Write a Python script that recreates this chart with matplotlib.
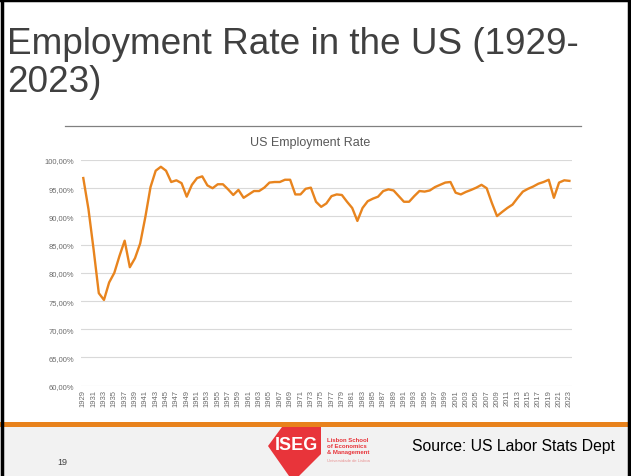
import matplotlib
matplotlib.use("Agg")
import matplotlib.pyplot as plt
from matplotlib.patches import Rectangle, Polygon
from matplotlib.lines import Line2D

plt.rcParams['font.family'] = ['Liberation Sans', 'DejaVu Sans']

# ---- data ----
years = list(range(1929, 2024))
employment_rate = [
    96.8, 91.3, 84.1, 76.4, 75.2, 78.3, 80.0, 83.0, 85.7, 81.0,   # 1929-1938
    82.6, 85.2, 89.9, 95.2, 98.1, 98.8, 98.1, 96.1, 96.4, 95.9,   # 1939-1948
    93.5, 95.6, 96.8, 97.1, 95.5, 95.0, 95.7, 95.7, 94.8, 93.8,   # 1949-1958
    94.7, 93.3, 93.9, 94.5, 94.5, 95.1, 96.0, 96.1, 96.1, 96.5,   # 1959-1968
    96.5, 93.9, 93.9, 94.9, 95.1, 92.6, 91.7, 92.3, 93.6, 93.9,   # 1969-1978
    93.8, 92.6, 91.5, 89.2, 91.5, 92.7, 93.15, 93.5, 94.5, 94.8,  # 1979-1988
    94.6, 93.6, 92.6, 92.6, 93.6, 94.5, 94.4, 94.6, 95.2, 95.6,   # 1989-1998
    96.0, 96.1, 94.2, 93.9, 94.35, 94.7, 95.1, 95.6, 95.0, 92.4,  # 1999-2008
    90.06, 90.8, 91.5, 92.1, 93.3, 94.4, 94.9, 95.3, 95.8, 96.1,  # 2009-2018
    96.5, 93.3, 96.0, 96.4, 96.3,                                 # 2019-2023
]
y_ticks = [60, 65, 70, 75, 80, 85, 90, 95, 100]
x_tick_years = list(range(1929, 2024, 2))

slide_title = "Employment Rate in the US (1929-\n2023)"
chart_title = "US Employment Rate"
source_text = "Source: US Labor Stats Dept"
page_no = "19"

W, H = 631, 477
fig = plt.figure(figsize=(W / 100, H / 100), dpi=100)
fig.patch.set_facecolor('white')

def fx(x):
    return x / W

def fy(y):
    return 1 - y / H

# ---- chart axes ----
left, right, top, bottom = 80.7, 572.0, 161.0, 386.7
ax = fig.add_axes([fx(left), fy(bottom), fx(right) - fx(left), fy(top) - fy(bottom)])
ax.plot(years, employment_rate, color='#E8841E', lw=1.7, solid_joinstyle='round', zorder=3)
ax.set_xlim(1928.5, 2023.5)
ax.set_ylim(60, 100)
ax.set_yticks(y_ticks)
ax.set_yticklabels([f"{v:.2f}%".replace('.', ',') for v in y_ticks])
ax.set_xticks(x_tick_years)
ax.set_xticklabels([str(y) for y in x_tick_years], rotation=90)
ax.tick_params(axis='both', length=0, colors='#6b6b6b', labelsize=5.5)
ax.tick_params(axis='y', pad=5)
ax.tick_params(axis='x', pad=2.5)
for s in ax.spines.values():
    s.set_visible(False)
ax.grid(axis='y', color='#D9D9D9', lw=0.8)
ax.set_axisbelow(True)
ax.set_facecolor('none')

# chart title
fig.text(fx(310), fy(143), chart_title, ha='center', va='center', fontsize=9, color='#595959')

# separator line under slide title
fig.add_artist(Line2D([fx(65), fx(581)], [fy(127), fy(127)], color='#808080', lw=0.9))

# slide title
fig.text(fx(7), fy(27), slide_title, ha='left', va='top', fontsize=26.6, color='#404040',
         linespacing=1.1)

# ---- footer ----
fig.add_artist(Rectangle((0, 0), 1, fy(428), transform=fig.transFigure,
                         facecolor='#F2F2F2', edgecolor='none', zorder=0))
fig.add_artist(Rectangle((0, fy(428)), 1, fy(423) - fy(428), transform=fig.transFigure,
                         facecolor='#E8821C', edgecolor='none', zorder=1))
fig.text(fx(57), fy(463), page_no, ha='left', va='center', fontsize=6.5, color='#404040')
fig.text(fx(412), fy(447), source_text, ha='left', va='center', fontsize=11.3, color='#000000')

# logo
logo_pts = [(268, 447), (282, 428), (321, 428), (321, 455), (299, 477), (289, 477)]
fig.add_artist(Polygon([(fx(x), fy(y)) for x, y in logo_pts], closed=True,
                       transform=fig.transFigure, facecolor='#E8343A', edgecolor='none', zorder=2))
fig.text(fx(296), fy(446), "ISEG", ha='center', va='center', fontsize=13, color='white',
         fontweight='bold', zorder=3)
for i, t in enumerate(["Lisbon School", "of Economics", "& Management"]):
    fig.text(fx(327), fy(441 + i * 6), t, ha='left', va='center', fontsize=4.3,
             color='#E8343A', fontweight='bold', zorder=3)
fig.text(fx(327), fy(461), "Universidade de Lisboa", ha='left', va='center', fontsize=3,
         color='#E89090', zorder=3)

# slide border (left, top, right)
for xs, ys in [([0.0025, 0.0025], [0, 1]), ([0, 1], [0.997, 0.997]), ([0.9975, 0.9975], [0, 1])]:
    fig.add_artist(Line2D(xs, ys, color='black', lw=2.5, zorder=5))

fig.savefig('out.png', dpi=100)
